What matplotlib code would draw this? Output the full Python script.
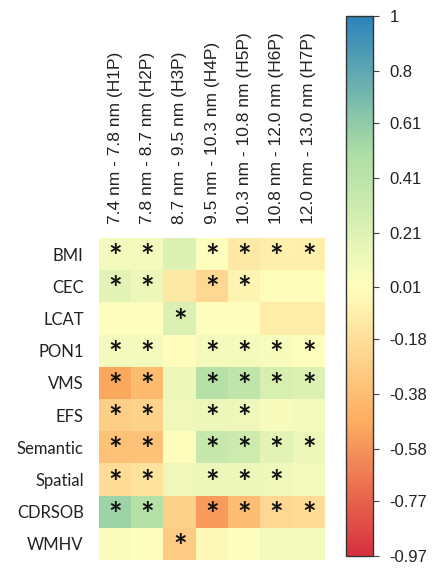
import numpy as np
import matplotlib
matplotlib.use("Agg")
from matplotlib import pyplot as plt
from matplotlib.colors import LinearSegmentedColormap, Normalize

# row / column labels
features = ["BMI", "CEC", "LCAT", "PON1", "VMS", "EFS",
            "Semantic", "Spatial", "CDRSOB", "WMHV"]
subclasses = ["7.4 nm - 7.8 nm (H1P)", "7.8 nm - 8.7 nm (H2P)",
              "8.7 nm - 9.5 nm (H3P)", "9.5 nm - 10.3 nm (H4P)",
              "10.3 nm - 10.8 nm (H5P)", "10.8 nm - 12.0 nm (H6P)",
              "12.0 nm - 13.0 nm (H7P)"]

# correlation values (rows = features)
corr = [
    [0.08, 0.08, 0.20, 0.03, -0.12, -0.08, -0.08],   # BMI
    [0.18, 0.12, -0.12, -0.22, -0.05, 0.00, 0.00],   # CEC
    [0.03, 0.03, 0.22, 0.03, 0.03, -0.10, -0.10],    # LCAT
    [0.08, 0.08, 0.00, 0.08, 0.08, 0.06, 0.03],      # PON1
    [-0.50, -0.40, 0.12, 0.44, 0.38, 0.24, 0.20],    # VMS
    [-0.28, -0.25, 0.10, 0.12, 0.10, 0.06, 0.08],    # EFS
    [-0.35, -0.35, 0.00, 0.34, 0.30, 0.18, 0.12],    # Semantic
    [-0.20, -0.15, 0.10, 0.12, 0.12, 0.10, 0.08],    # Spatial
    [0.56, 0.44, -0.25, -0.55, -0.38, -0.22, -0.20], # CDRSOB
    [0.05, 0.03, -0.30, -0.03, 0.02, 0.08, 0.08],    # WMHV
]

# significance marks (1 = star)
signif = [
    [1, 1, 0, 1, 1, 1, 1],
    [1, 1, 0, 1, 1, 0, 0],
    [0, 0, 1, 0, 0, 0, 0],
    [1, 1, 0, 1, 1, 1, 1],
    [1, 1, 0, 1, 1, 1, 1],
    [1, 1, 0, 1, 1, 0, 0],
    [1, 1, 0, 1, 1, 1, 1],
    [1, 1, 0, 1, 1, 1, 0],
    [1, 1, 0, 1, 1, 1, 1],
    [0, 0, 1, 0, 0, 0, 0],
]

cbar_ticks = [-0.97, -0.77, -0.58, -0.38, -0.18, 0.01, 0.21, 0.41, 0.61, 0.8, 1]
vmin, vmax = -0.97, 1.0

cmap = LinearSegmentedColormap.from_list(
    "spec5", ["#d7303f", "#fdae61", "#ffffbf", "#abdda4", "#2b83ba"])
norm = Normalize(vmin=vmin, vmax=vmax)

data = np.array(corr)
stars = np.array(signif)

fig = plt.figure(figsize=(4.41, 5.69), dpi=100)
ax = fig.add_axes([99 / 441, 1 - 560 / 569, 226 / 441, 322 / 569])
ax.imshow(data, cmap=cmap, norm=norm, aspect="auto", interpolation="nearest")

for i in range(data.shape[0]):
    for j in range(data.shape[1]):
        if stars[i, j]:
            ax.text(j, i + 0.14, "*", ha="center", va="center",
                    fontsize=23, fontweight="bold", family="Lato", color="#111111")

ax.set_xticks(range(len(subclasses)))
ax.set_xticklabels(subclasses, rotation=90, fontsize=12.5,
                   family="Liberation Sans", color="#222222")
ax.xaxis.tick_top()
ax.set_yticks(range(len(features)))
ax.set_yticklabels(features, fontsize=12, family="Lato", color="#222222")
ax.tick_params(length=0, pad=10)
ax.tick_params(axis="y", pad=11)
for s in ax.spines.values():
    s.set_visible(False)

# colour bar
cax = fig.add_axes([346 / 441, 1 - 556 / 569, 27 / 441, 540 / 569])
sm = plt.cm.ScalarMappable(cmap=cmap, norm=norm)
cb = fig.colorbar(sm, cax=cax, ticks=cbar_ticks)
cb.ax.set_yticklabels([str(t) for t in cbar_ticks], family="Liberation Sans",
                      fontsize=12, color="#222222")
cb.ax.tick_params(length=4, width=0.8, color="#444444", pad=8)
cb.outline.set_linewidth(1.0)
cb.outline.set_edgecolor("#333333")

fig.savefig("out.png", dpi=100, facecolor="white")
